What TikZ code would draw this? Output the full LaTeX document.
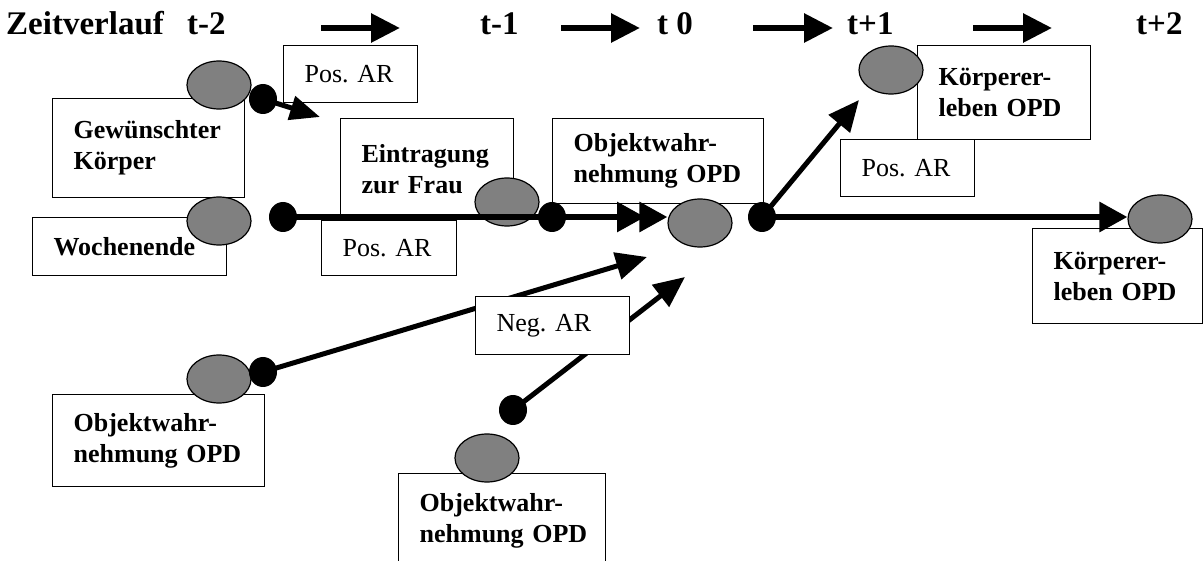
\documentclass[tikz,border=0pt]{standalone}
\usepackage{fontspec}
\setmainfont{Liberation Serif}
\usetikzlibrary{arrows.meta,shapes.geometric}
\pgfdeclarelayer{boxes}
\pgfdeclarelayer{ells}
\pgfdeclarelayer{top}
\pgfsetlayers{boxes,ells,main,top}
\definecolor{ellgray}{HTML}{808080}
\frenchspacing
\begin{document}
\begin{tikzpicture}[x=1pt,y=-1pt,
  bx/.style={draw,fill=white,line width=1.3pt,inner xsep=21pt,inner ysep=0pt,
    anchor=north west,align=left,font=\fontsize{26}{31}\selectfont\bfseries\frenchspacing},
  rbx/.style={bx,font=\fontsize{26}{31}\selectfont\frenchspacing},
  ell/.style={ellipse,draw,line width=1.2pt,fill=ellgray,minimum width=64pt,
    minimum height=48pt,inner sep=0pt},
  dot/.style={ellipse,fill=black,minimum width=28pt,minimum height=30pt,inner sep=0pt},
  ttl/.style={anchor=base west,inner sep=0pt,font=\fontsize{33}{37}\selectfont\bfseries},
  tarr/.style={line width=6pt,-{Triangle[length=29pt,width=28pt]}},
  mainl/.style={line width=6pt,-{Triangle[length=28pt,width=29pt]}},
  conn/.style={line width=5pt,-{Triangle[length=31pt,width=27pt]}}
]
\useasboundingbox (0,0) rectangle (1203,561);

% title row
\node[ttl] (zv) at (6,35) {Zeitverlauf};
\node[ttl] (tm2) at (187,35) {t-2};
\node[ttl] (tm1) at (480,35) {t-1};
\node[ttl] (t0) at (657,35) {t 0};
\node[ttl] (tp1) at (847,35) {t+1};
\node[ttl] (tp2) at (1136,35) {t+2};
\coordinate (a1s) at (321,28); \coordinate (a1e) at (400,28);
\coordinate (a2s) at (561,28); \coordinate (a2e) at (640,28);
\coordinate (a3s) at (753,28); \coordinate (a3e) at (833,28);
\coordinate (a4s) at (973,28); \coordinate (a4e) at (1052,28);
\draw[tarr] (a1s) -- (a1e);
\draw[tarr] (a2s) -- (a2e);
\draw[tarr] (a3s) -- (a3e);
\draw[tarr] (a4s) -- (a4e);

% boxes
\begin{pgfonlayer}{boxes}
\node[rbx,text width=92pt,minimum height=57pt] (posA) at (283,45) {\mbox{Pos. AR}};
\node[bx,text width=150pt,minimum height=99pt] (gew) at (52,98) {Gewünschter\\Körper};
\node[bx,text width=152pt,minimum height=58pt] (woch) at (32,217) {Wochenende};
\node[bx,text width=131pt,minimum height=100pt] (eintr) at (340,118) {Eintragung\\\mbox{zur Frau}};
\node[rbx,text width=93pt,minimum height=55pt] (posB) at (321,220) {\mbox{Pos. AR}};
\node[bx,text width=169pt,minimum height=85pt] (objC) at (552,118) {Objektwahr-\\\mbox{nehmung OPD}};
\node[bx,text width=131pt,minimum height=94pt] (koerA) at (917,45) {Körperer-\\\mbox{leben OPD}};
\node[rbx,text width=92pt,minimum height=57pt] (posC) at (840,139) {\mbox{Pos. AR}};
\node[bx,text width=128pt,minimum height=95pt] (koerB) at (1032,228) {Körperer-\\\mbox{leben OPD}};
\node[bx,text width=170pt,minimum height=92pt] (objL) at (52,394) {Objektwahr-\\\mbox{nehmung OPD}};
\node[bx,text width=165pt,minimum height=95pt] (objB) at (398,473) {Objektwahr-\\\mbox{nehmung OPD}};
\end{pgfonlayer}

% ellipses
\begin{pgfonlayer}{ells}
\node[ell] (e1) at (219,85) {};
\node[ell] (e2) at (219,221) {};
\node[ell] (e3) at (507,202) {};
\node[ell] (e4) at (700,223) {};
\node[ell] (e5) at (891,70) {};
\node[ell] (e6) at (1160,219) {};
\node[ell] (e7) at (219,379) {};
\node[ell] (e8) at (487,458) {};
\end{pgfonlayer}

% dots and top box
\begin{pgfonlayer}{top}
\node[dot] (d1) at (263,99) {};
\node[dot] (d2) at (283,217) {};
\node[dot] (d3) at (552,217) {};
\node[dot] (d4) at (762,217) {};
\node[dot] (d5) at (263,372) {};
\node[dot] (d6) at (513,410) {};
\node[rbx,text width=112pt,minimum height=58pt] (negAR) at (475,296) {\mbox{Neg. AR}};
\end{pgfonlayer}

% connectors
\coordinate (c1) at (320,117);
\coordinate (c2) at (645,217);
\coordinate (c3) at (859,100);
\coordinate (c4) at (647,257);
\coordinate (c5) at (685,277);
\draw[conn,-{Triangle[length=30pt,width=24pt]}] (d1.center) -- (c1);
\draw[mainl] (d2.center) -- (c2);
\draw[mainl] (d3.center) -- (d3.center -| e4.west);
\draw[mainl] (d4.center) -- (d4.center -| e6.west);
\draw[conn] (d4.center) -- (c3);
\draw[conn] (d5.center) -- (c4);
\draw[conn] (d6.center) -- (c5);
\end{tikzpicture}
\end{document}
